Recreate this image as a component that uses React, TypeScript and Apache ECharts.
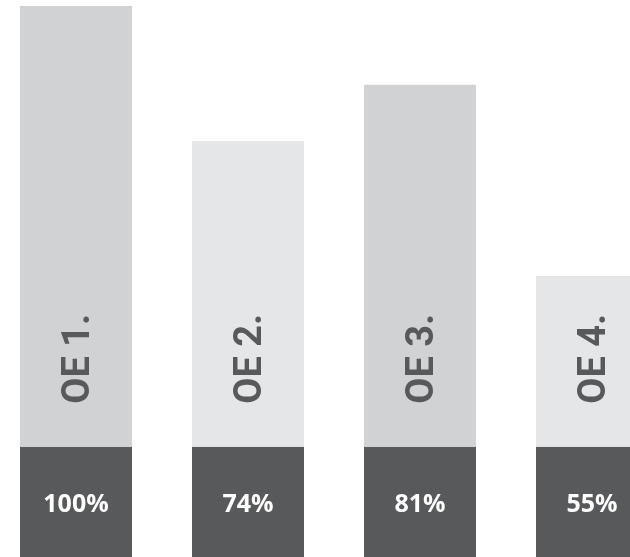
import React, { useEffect, useRef } from "react";
import * as echarts from "echarts";

const categories = ["OE 1.", "OE 2.", "OE 3.", "OE 4."];
const percentLabels = ["100%", "74%", "81%", "55%"];
const baseValues = [20, 20, 20, 20];
const upperValues = [80, 55.5, 65.7, 31];

const lightColors = ["#d1d2d4", "#e5e6e8"];
const darkColor = "#58595b";

export default function App() {
  const ref = useRef<HTMLDivElement>(null);
  useEffect(() => {
    if (!ref.current) return;
    const chart = echarts.init(ref.current, null, { renderer: "svg" });
    chart.setOption({
      animation: false,
      grid: { left: 0, right: 0, top: 6, bottom: 0, containLabel: false },
      xAxis: {
        type: "category",
        data: categories,
        show: false,
      },
      yAxis: { type: "value", min: 0, max: 100, show: false },
      series: [
        {
          type: "bar",
          stack: "s",
          barWidth: 112,
          data: baseValues,
          itemStyle: { color: darkColor },
          label: {
            show: true,
            position: "inside",
            formatter: (p: any) => percentLabels[p.dataIndex],
            color: "#ffffff",
            fontFamily: "Open Sans",
            fontWeight: "bold",
            fontSize: 25,
          },
        },
        {
          type: "bar",
          stack: "s",
          barWidth: 112,
          data: upperValues,
          itemStyle: {
            color: (p: any) => lightColors[p.dataIndex % 2],
          },
          label: {
            show: true,
            position: "insideBottom",
            distance: 43,
            rotate: 90,
            align: "left",
            verticalAlign: "middle",
            formatter: (p: any) => categories[p.dataIndex],
            color: darkColor,
            fontFamily: "Roboto",
            fontWeight: "bold",
            fontSize: 38,
          },
        },
      ],
    });
    return () => chart.dispose();
  }, []);
  return (
    <div
      style={{ position: "fixed", left: 0, top: 0, width: 630, height: 557, overflow: "hidden" }}
    >
      <div ref={ref} style={{ position: "absolute", left: -10, top: 0, width: 688, height: 557 }} />
    </div>
  );
}
